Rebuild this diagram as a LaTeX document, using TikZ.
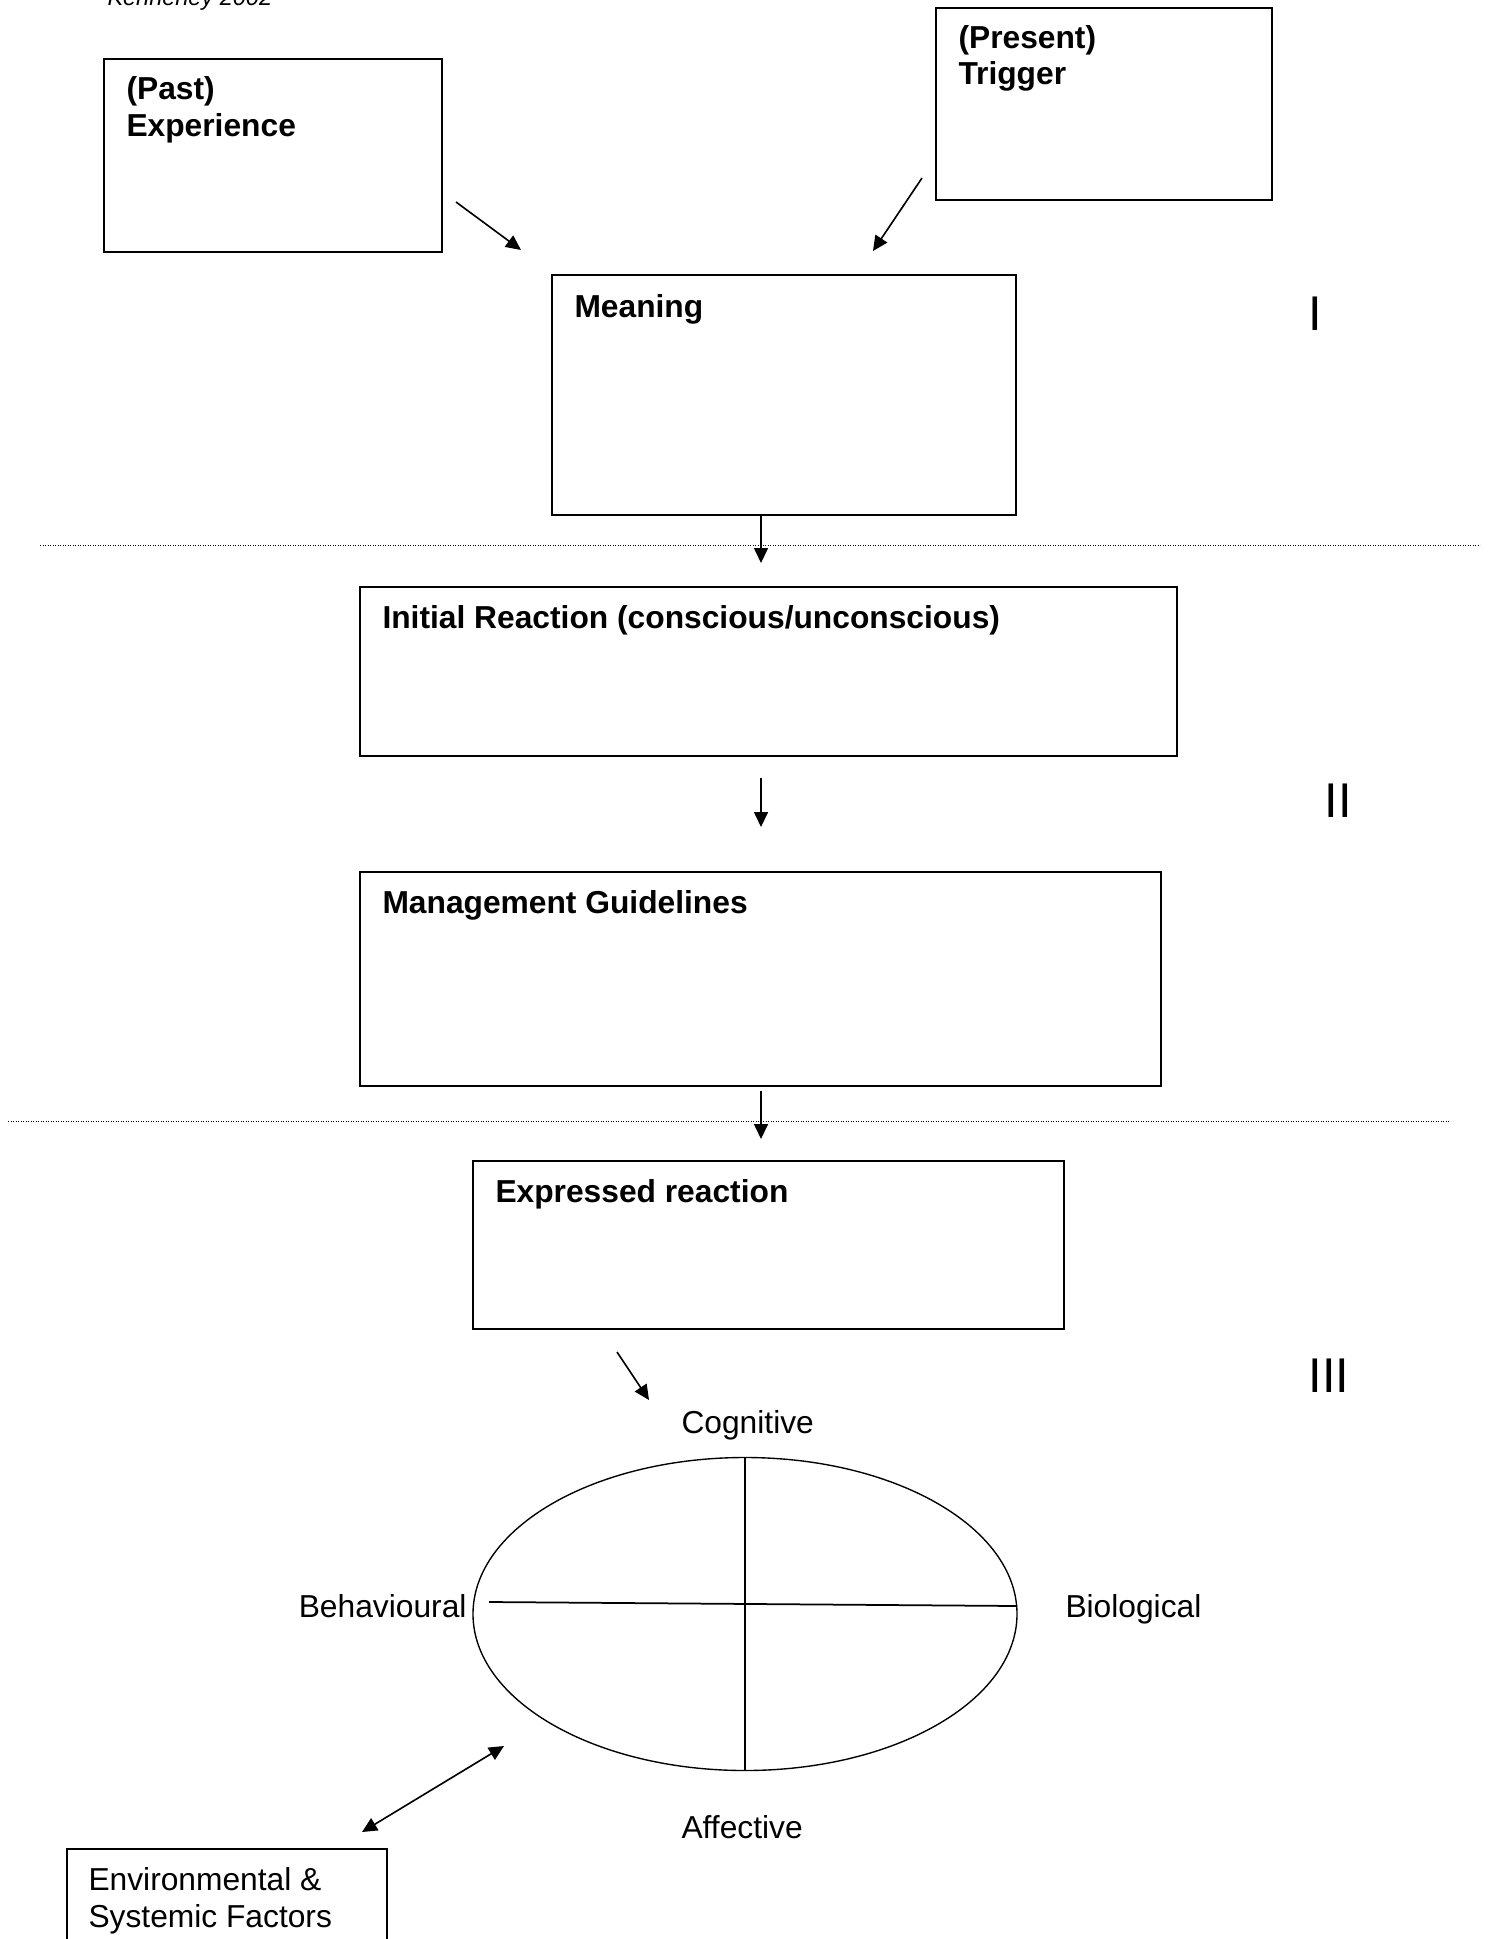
\documentclass[tikz,border=0pt]{standalone}
\usepackage{fontspec}
\setmainfont{Liberation Sans}
\usetikzlibrary{arrows.meta,shapes.geometric}
\begin{document}
\begin{tikzpicture}[x=0.4pt,y=-0.4pt,
  box/.style={draw,line width=0.8pt,inner sep=0pt,outer sep=0pt,anchor=north west},
  btxt/.style={anchor=base west,inner sep=0pt,font=\fontsize{12.7}{14.6}\selectfont\bfseries},
  rtxt/.style={anchor=base west,inner sep=0pt,font=\fontsize{12.7}{14.6}\selectfont},
  roman/.style={anchor=base,inner sep=0pt,font=\fontsize{19.5}{22}\selectfont},
  arr/.style={line width=0.65pt,-{Triangle[length=6pt,width=5.6pt]}},
  darr/.style={line width=0.65pt,{Triangle[length=6pt,width=5.6pt]}-{Triangle[length=6pt,width=5.6pt]}},
  sep/.style={line width=0.4pt,dash pattern=on 0.4pt off 0.6pt}]
\clip (0,0) rectangle (1493,1939);
\fill[white] (0,0) rectangle (1493,1939);

% credit
\node[anchor=base west,inner sep=0pt,font=\fontsize{9.4}{11}\selectfont\itshape] (credit) at (107,6) {Kennerley 2002};

% boxes
\node[box,minimum width=135.2pt,minimum height=77.2pt] (past) at (104,59) {};
\node[btxt] (pastA) at (126,100) {(Past)};
\node[btxt] (pastB) at (126,137) {Experience};

\node[box,minimum width=134.4pt,minimum height=76.8pt] (trig) at (936,8) {};
\node[btxt] (trigA) at (958,49) {(Present)};
\node[btxt] (trigB) at (958,85) {Trigger};

\node[box,minimum width=185.6pt,minimum height=96pt] (mean) at (552,275) {};
\node[btxt] (meanT) at (574,317) {Meaning};

\node[box,minimum width=326.8pt,minimum height=67.6pt] (init) at (360,587) {};
\node[btxt] (initT) at (382,628) {Initial Reaction (conscious/unconscious)};

\node[box,minimum width=320.4pt,minimum height=85.6pt] (mgmt) at (360,872) {};
\node[btxt] (mgmtT) at (382,913) {Management Guidelines};

\node[box,minimum width=236.4pt,minimum height=67.2pt] (expr) at (473,1161) {};
\node[btxt] (exprT) at (495,1202) {Expressed reaction};

\node[box,minimum width=128pt,minimum height=44pt] (env) at (67,1849) {};
\node[rtxt] (envA) at (88,1890) {Environmental \&};
\node[rtxt] (envB) at (88,1927) {Systemic Factors};

% roman numerals
\node[roman] (r1) at (1315,330) {I};
\node[roman] (r2) at (1338,817) {II};
\node[roman] (r3) at (1329,1392) {III};

% separators
\coordinate (s1a) at (40,545);  \coordinate (s1b) at (1480,545);
\coordinate (s2a) at (8,1121);  \coordinate (s2b) at (1449,1121);
\draw[sep] (s1a) -- (s1b);
\draw[sep] (s2a) -- (s2b);

% ellipse
\node[draw,ellipse,line width=0.55pt,minimum width=217.6pt,minimum height=125.2pt,inner sep=0pt] (ell) at (745,1614) {};
\coordinate (vt) at (745,1458); \coordinate (vb) at (745,1771);
\coordinate (hl) at (489,1602); \coordinate (hr) at (1017,1606);
\draw[line width=0.45pt] (vt) -- (vb);
\draw[line width=0.7pt] (hl) -- (hr);

\node[rtxt,anchor=base east] (beh) at (467,1617) {Behavioural};
\node[rtxt] (bio) at (1065,1617) {Biological};
\node[rtxt] (cog) at (681,1433) {Cognitive};
\node[rtxt] (aff) at (681,1838) {Affective};

% arrows
\coordinate (a1s) at (456,202);  \coordinate (a1e) at (521,250);
\coordinate (a2s) at (922,178);  \coordinate (a2e) at (873,251);
\coordinate (a3s) at (761,515);  \coordinate (a3e) at (761,563);
\coordinate (a4s) at (761,778);  \coordinate (a4e) at (761,827);
\coordinate (a5s) at (761,1091); \coordinate (a5e) at (761,1139);
\coordinate (a6s) at (617,1352); \coordinate (a6e) at (649,1400);
\coordinate (a7s) at (362,1832); \coordinate (a7e) at (504,1746);
\draw[arr] (a1s) -- (a1e);
\draw[arr] (a2s) -- (a2e);
\draw[arr] (a3s) -- (a3e);
\draw[arr] (a4s) -- (a4e);
\draw[arr] (a5s) -- (a5e);
\draw[arr] (a6s) -- (a6e);
\draw[darr] (a7s) -- (a7e);
\end{tikzpicture}
\end{document}
